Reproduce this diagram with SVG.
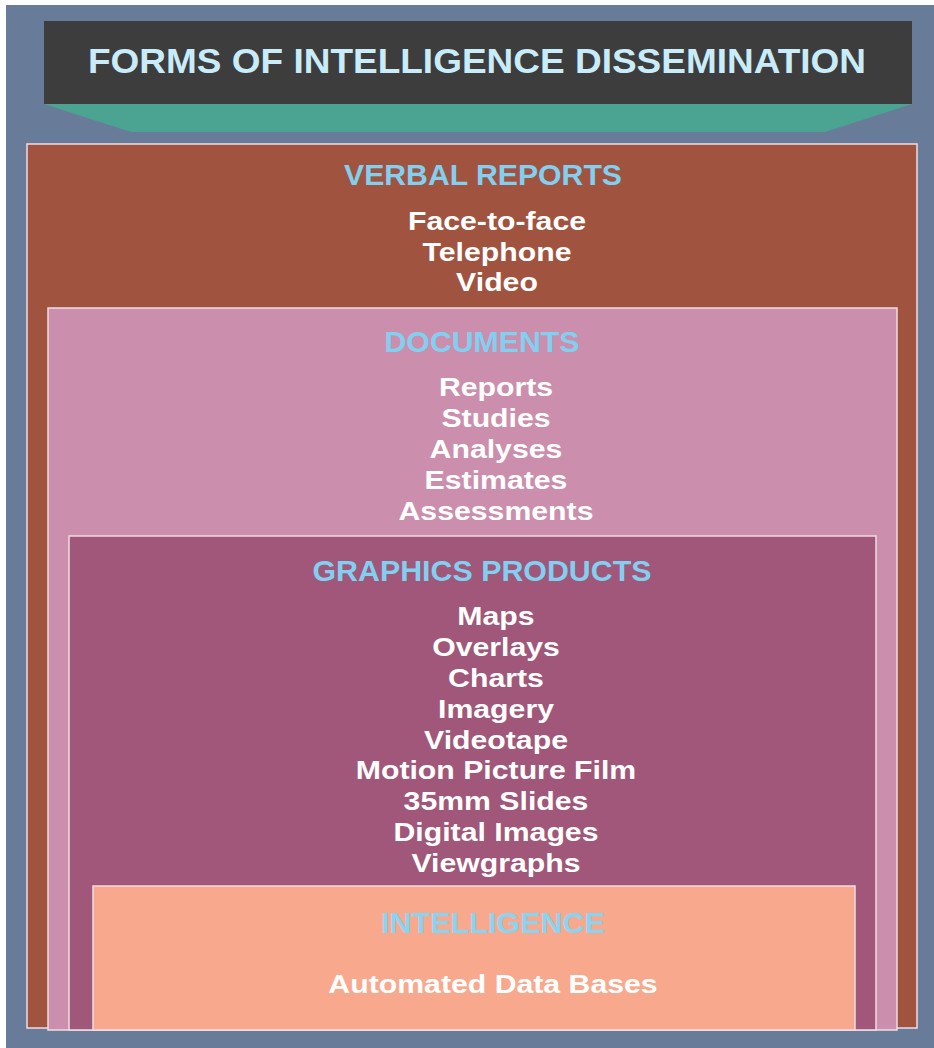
<svg xmlns="http://www.w3.org/2000/svg" width="934" height="1048" viewBox="0 0 934 1048">
<style>
.box{stroke:#EEDDE2;stroke-width:1.5}
.head{font-family:"Liberation Sans",Arial,sans-serif;font-weight:bold;font-size:30px;fill:#82CFF0;text-anchor:middle}
.item{font-family:"Liberation Sans",Arial,sans-serif;font-weight:bold;font-size:25px;fill:#FFFFFF;text-anchor:middle}
.title{font-family:"Liberation Sans",Arial,sans-serif;font-weight:bold;font-size:35px;fill:#C8ECFA;text-anchor:middle}
</style>
<rect x="0" y="0" width="934" height="1048" fill="#FFFFFF"/>
<rect x="6" y="5" width="928" height="1043" fill="#687C99"/>
<g id="title">
<polygon points="44,104 912,104 825,132 131,132" fill="#4BA391"/>
<rect x="44" y="21" width="868" height="83" fill="#3D3D3D"/>
<text class="title" x="477" y="73" textLength="778" lengthAdjust="spacingAndGlyphs">FORMS OF INTELLIGENCE DISSEMINATION</text>
</g>
<g id="verbal">
<rect class="box" x="27" y="144" width="890" height="884" fill="#A0543F"/>
<text class="head" x="483" y="185" textLength="278" lengthAdjust="spacingAndGlyphs">VERBAL REPORTS</text>
<g transform="translate(497 0) scale(1.21 1)">
<text class="item" x="0" y="230">Face-to-face</text>
<text class="item" x="0" y="261">Telephone</text>
<text class="item" x="0" y="291">Video</text>
</g>
</g>
<g id="documents">
<rect class="box" x="48" y="308" width="849" height="722" fill="#CB8FAD"/>
<text class="head" x="482" y="352" textLength="195" lengthAdjust="spacingAndGlyphs">DOCUMENTS</text>
<g transform="translate(496 0) scale(1.21 1)">
<text class="item" x="0" y="396">Reports</text>
<text class="item" x="0" y="427">Studies</text>
<text class="item" x="0" y="458">Analyses</text>
<text class="item" x="0" y="489">Estimates</text>
<text class="item" x="0" y="520">Assessments</text>
</g>
</g>
<g id="graphics">
<rect class="box" x="69" y="536" width="807" height="494" fill="#A05779"/>
<text class="head" x="482" y="581" textLength="339" lengthAdjust="spacingAndGlyphs">GRAPHICS PRODUCTS</text>
<g transform="translate(496 0) scale(1.21 1)">
<text class="item" x="0" y="625">Maps</text>
<text class="item" x="0" y="656">Overlays</text>
<text class="item" x="0" y="687">Charts</text>
<text class="item" x="0" y="718">Imagery</text>
<text class="item" x="0" y="749">Videotape</text>
<text class="item" x="0" y="779">Motion Picture Film</text>
<text class="item" x="0" y="810">35mm Slides</text>
<text class="item" x="0" y="841">Digital Images</text>
<text class="item" x="0" y="872">Viewgraphs</text>
</g>
</g>
<g id="intelligence">
<rect class="box" x="93" y="886" width="762" height="144" fill="#F8A98D"/>
<text class="head" x="493" y="933" style="fill:#8AD4F2" textLength="224" lengthAdjust="spacingAndGlyphs">INTELLIGENCE</text>
<g transform="translate(493 0) scale(1.21 1)">
<text class="item" x="0" y="993">Automated Data Bases</text>
</g>
</g>
<g id="connectors"/>
</svg>
